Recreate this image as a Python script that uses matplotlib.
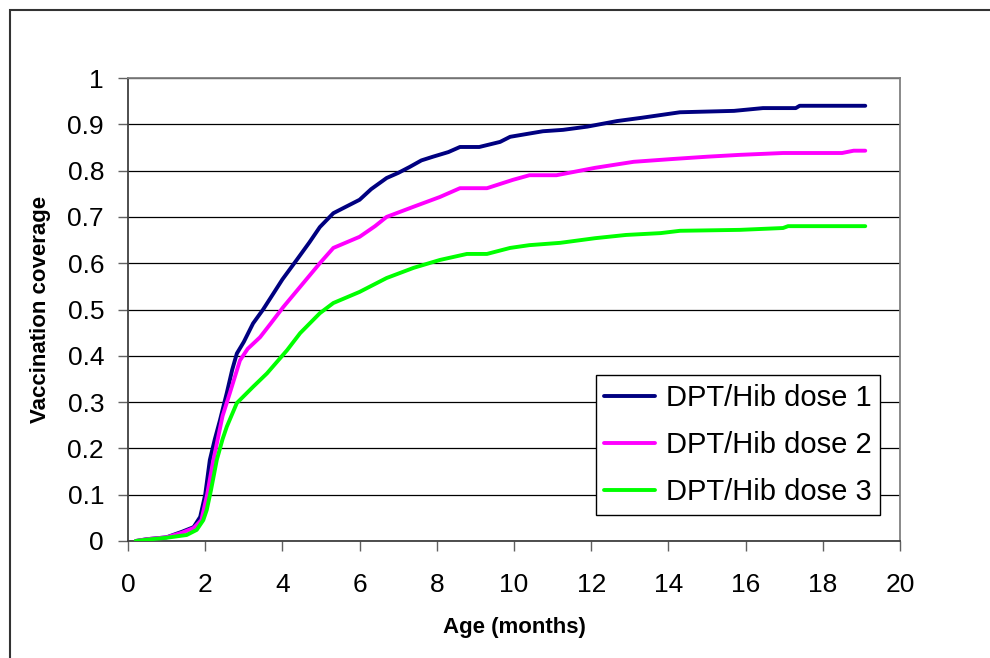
"""Cumulative DPT/Hib vaccination coverage by age (Excel-style line chart)."""

import matplotlib

matplotlib.use("Agg")
import matplotlib.pyplot as plt
from matplotlib.patches import Rectangle

plt.rcParams["font.family"] = ["Liberation Sans", "DejaVu Sans"]

# Age in months / coverage
age_dose1 = [0.2, 0.5, 1.0, 1.4, 1.7, 1.87, 2.0, 2.12, 2.25, 2.38, 2.56, 2.7, 2.82, 3.0,
             3.24, 3.5, 3.77, 4.0, 4.37, 4.7, 4.97, 5.32, 5.6, 6.0, 6.3, 6.7, 7.0, 7.3,
             7.6, 7.9, 8.3, 8.6, 9.1, 9.64, 9.9, 10.75, 11.27, 11.9, 12.67, 13.3, 13.8,
             14.3, 15.7, 16.45, 17.3, 17.4, 19.1]
cov_dose1 = [0.0, 0.004, 0.008, 0.02, 0.03, 0.052, 0.1, 0.175, 0.22, 0.26, 0.32, 0.37,
             0.405, 0.43, 0.47, 0.5, 0.535, 0.565, 0.607, 0.645, 0.678, 0.708, 0.72,
             0.737, 0.76, 0.784, 0.795, 0.808, 0.822, 0.83, 0.84, 0.851, 0.851, 0.862,
             0.873, 0.885, 0.888, 0.895, 0.907, 0.914, 0.92, 0.926, 0.929, 0.935, 0.935,
             0.94, 0.94]

age_dose2 = [0.2, 0.5, 1.0, 1.4, 1.7, 1.9, 2.05, 2.2, 2.3, 2.45, 2.64, 2.9, 3.1, 3.42,
             3.7, 4.02, 4.46, 4.97, 5.32, 6.0, 6.4, 6.7, 7.4, 8.08, 8.6, 9.3, 9.97, 10.4,
             11.1, 12.1, 13.1, 14.1, 15.0, 15.85, 16.97, 18.5, 18.8, 19.1]
cov_dose2 = [0.0, 0.004, 0.008, 0.018, 0.028, 0.045, 0.1, 0.17, 0.21, 0.27, 0.32, 0.39,
             0.415, 0.44, 0.47, 0.505, 0.549, 0.6, 0.633, 0.657, 0.68, 0.7, 0.722, 0.743,
             0.762, 0.762, 0.78, 0.79, 0.79, 0.806, 0.819, 0.825, 0.83, 0.834, 0.838,
             0.838, 0.843, 0.843]

age_dose3 = [0.2, 0.5, 1.0, 1.52, 1.78, 1.95, 2.04, 2.15, 2.3, 2.45, 2.56, 2.82, 3.24,
             3.6, 4.12, 4.46, 4.97, 5.32, 6.0, 6.7, 7.4, 8.08, 8.78, 9.3, 9.9, 10.4, 11.2,
             12.1, 12.9, 13.8, 14.3, 15.85, 16.97, 17.1, 19.1]
cov_dose3 = [0.0, 0.003, 0.007, 0.013, 0.024, 0.045, 0.067, 0.11, 0.175, 0.22, 0.247,
             0.298, 0.333, 0.362, 0.412, 0.449, 0.492, 0.514, 0.538, 0.568, 0.59, 0.607,
             0.62, 0.62, 0.633, 0.639, 0.644, 0.654, 0.661, 0.665, 0.67, 0.672, 0.676,
             0.68, 0.68]

series_labels = ["DPT/Hib dose 1", "DPT/Hib dose 2", "DPT/Hib dose 3"]
series_colors = ["#000080", "#FF00FF", "#00FF00"]
x_ticks = list(range(0, 21, 2))
y_ticks = [round(0.1 * i, 1) for i in range(11)]
y_tick_labels = ["0", "0.1", "0.2", "0.3", "0.4", "0.5", "0.6", "0.7", "0.8", "0.9", "1"]


def main() -> int:
    W, H = 990, 658
    figure = plt.figure(figsize=(W / 100, H / 100), dpi=100)
    ax = figure.add_axes([128 / W, (H - 541) / H, (900 - 128) / W, (541 - 78) / H])

    # outer chart frame (cut off on the right and bottom, as in the source)
    figure.patches.append(Rectangle((9.5 / W, -0.1), 1.2, (H - 10.5) / H + 0.1,
                                    transform=figure.transFigure, fill=False,
                                    edgecolor="#333333", linewidth=1.5))

    for xs, ys, label, color in zip([age_dose1, age_dose2, age_dose3],
                                    [cov_dose1, cov_dose2, cov_dose3],
                                    series_labels, series_colors):
        ax.plot(xs, ys, color=color, linewidth=2.8, label=label,
                solid_capstyle="round", zorder=3)

    ax.set_xlim(0, 20)
    ax.set_ylim(0, 1)
    ax.set_xticks(x_ticks)
    ax.set_yticks(y_ticks)
    ax.set_yticklabels(y_tick_labels)
    ax.yaxis.grid(True, color="black", linewidth=0.9)
    ax.set_axisbelow(True)

    ax.tick_params(axis="both", labelsize=19, direction="out", color="#606060",
                   length=7.2, width=1)
    ax.tick_params(axis="x", pad=16)
    ax.tick_params(axis="y", pad=10)

    ax.spines["left"].set_color("#404040")
    ax.spines["bottom"].set_color("#404040")
    ax.spines["top"].set_color("#808080")
    ax.spines["right"].set_color("#808080")
    for spine in ax.spines.values():
        spine.set_linewidth(1.3)

    ax.set_xlabel("Age (months)", fontsize=16, fontweight="bold", labelpad=14)
    ax.set_ylabel("Vaccination coverage", fontsize=16, fontweight="bold", labelpad=12)

    legend = ax.legend(loc="lower right", bbox_to_anchor=(752 / 772, 26 / 463),
                       fontsize=21, frameon=True, fancybox=False, framealpha=1,
                       edgecolor="black", handlelength=1.75, handletextpad=0.35,
                       borderpad=0.3, labelspacing=0.66, borderaxespad=0)
    legend.get_frame().set_linewidth(1.0)

    figure.savefig("out.png", dpi=100)
    plt.close(figure)
    return 0


if __name__ == "__main__":
    main()
